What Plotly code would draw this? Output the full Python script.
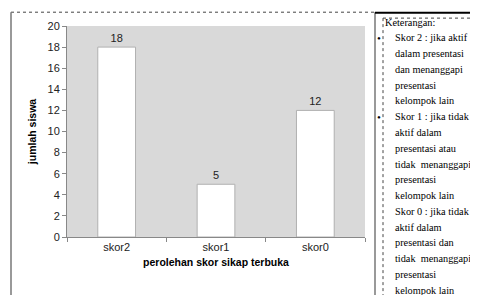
import plotly.graph_objects as go

categories = ["skor2", "skor1", "skor0"]
values = [18, 5, 12]
y_ticks = [0, 2, 4, 6, 8, 10, 12, 14, 16, 18, 20]
x_title = "perolehan skor sikap terbuka"
y_title = "jumlah siswa"
note_lines = [
    "Keterangan:",
    "Skor 2 : jika aktif",
    "dalam presentasi",
    "dan menanggapi",
    "presentasi",
    "kelompok lain",
    "Skor 1 : jika tidak",
    "aktif dalam",
    "presentasi atau",
    "tidak  menanggapi",
    "presentasi",
    "kelompok lain",
    "Skor 0 : jika tidak",
    "aktif dalam",
    "presentasi dan",
    "tidak  menanggapi",
    "presentasi",
    "kelompok lain",
]
bullet_lines = [1, 6]

OFF = 8  # page body margin offset
W, H = 478 - OFF, 295 - OFF
L, R, T, B = 67 - OFF, 365 - OFF, 23 - OFF, 237 - OFF

def px(x):
    return (x - OFF - L) / (R - L)

def py(y):
    return (B - (y - OFF)) / (B - T)

sans = "Liberation Sans Narrow, Arial Narrow, Liberation Sans, sans-serif"
serif = "Liberation Serif, Times New Roman, serif"

fig = go.Figure()
fig.add_trace(go.Bar(
    x=categories, y=values, width=0.38,
    marker=dict(color="#ffffff", line=dict(color="#b0b0b0", width=1)),
    text=[str(v) for v in values], textposition="outside",
    textfont=dict(family=sans, size=11, color="#222222"),
    cliponaxis=False,
))

shapes = [
    dict(type="line", xref="paper", yref="paper", x0=px(11), x1=px(374), y0=py(9), y1=py(9),
         line=dict(color="#444444", width=1, dash="dot")),
    dict(type="line", xref="paper", yref="paper", x0=px(11), x1=px(11), y0=py(9), y1=py(300),
         line=dict(color="#777777", width=1.5)),
    dict(type="line", xref="paper", yref="paper", x0=px(375), x1=px(375), y0=py(9), y1=py(300),
         line=dict(color="#777777", width=1.5)),
    dict(type="line", xref="paper", yref="paper", x0=px(375), x1=px(480), y0=py(9.5), y1=py(9.5),
         line=dict(color="#000000", width=2, dash="solid")),
    dict(type="line", xref="paper", yref="paper", x0=px(383), x1=px(480), y0=py(15), y1=py(15),
         line=dict(color="#444444", width=1, dash="dot")),
    dict(type="line", xref="paper", yref="paper", x0=px(383), x1=px(383), y0=py(15), y1=py(300),
         line=dict(color="#444444", width=1, dash="dot")),
]

annotations = []
for i, line in enumerate(note_lines):
    ypos = 19 + 16 * i
    xpos = 383 if i == 0 else 393
    annotations.append(dict(
        text=line, xref="paper", yref="paper", x=px(xpos), y=py(ypos),
        xanchor="left", yanchor="middle", showarrow=False,
        font=dict(family=serif, size=10.3, color="#000000"),
    ))
for i in bullet_lines:
    annotations.append(dict(
        text="•", xref="paper", yref="paper", x=px(375), y=py(19 + 16 * i),
        xanchor="left", yanchor="middle", showarrow=False,
        font=dict(family=serif, size=11, color="#000000"),
    ))

fig.update_layout(
    width=W, height=H,
    margin=dict(l=L, r=W - R, t=T, b=H - B, pad=0),
    paper_bgcolor="#ffffff",
    plot_bgcolor="#d9d9d9",
    showlegend=False,
    shapes=shapes,
    annotations=annotations,
    xaxis=dict(
        tickfont=dict(family=sans, size=11, color="#222222"),
        showline=True, linecolor="#888888", linewidth=1,
        ticks="outside", tickson="boundaries", ticklen=4, tickcolor="#888888",
        showgrid=False,
        title=dict(text="<b>" + x_title + "</b>", font=dict(family=sans, size=10.5, color="#000000"), standoff=6),
    ),
    yaxis=dict(
        range=[0, 20], tickvals=y_ticks,
        tickfont=dict(family=sans, size=11, color="#222222"),
        showline=True, linecolor="#888888", linewidth=1,
        ticks="outside", ticklen=4, tickcolor="#888888",
        showgrid=False, zeroline=False,
        title=dict(text="<b>" + y_title + "</b>", font=dict(family=sans, size=10.5, color="#000000"), standoff=8),
    ),
    bargap=0.62,
)

fig.write_html("out.html")
